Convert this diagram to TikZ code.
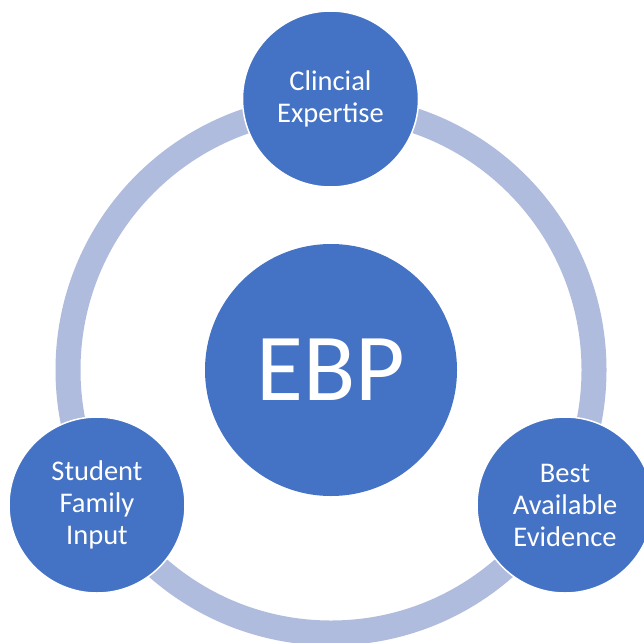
\documentclass[tikz,border=0pt]{standalone}
\usepackage{fontspec}
\setmainfont{Carlito}
\definecolor{nodeblue}{HTML}{4472C4}
\definecolor{ringblue}{RGB}{176,188,222}
\begin{document}
\begin{tikzpicture}[x=1pt,y=-1pt,
  outer/.style={circle, fill=nodeblue, draw=white, line width=1.5pt, minimum size=176pt, inner sep=0pt,
    text=white, font=\fontsize{28.5}{32}\selectfont, align=center},
  core/.style={circle, fill=nodeblue, minimum size=252pt, inner sep=0pt,
    text=white, font=\fontsize{96}{100}\selectfont}]
\useasboundingbox (0,0) rectangle (644,642);
\clip (0,0) rectangle (644,642);
\fill[white] (0,0) rectangle (644,642);
\coordinate (c) at (331,370);
\draw[ringblue, line width=25pt] (c) circle[radius=263];
\node[core] (ebp) at (c) {EBP};
\node[outer] (top) at (330.5,99) {Clincial\\Expertise};
\node[outer] (left) at (97,505) {Student\\Family\\Input};
\node[outer] (right) at (565,505) {Best\\Available\\Evidence};
\end{tikzpicture}
\end{document}
